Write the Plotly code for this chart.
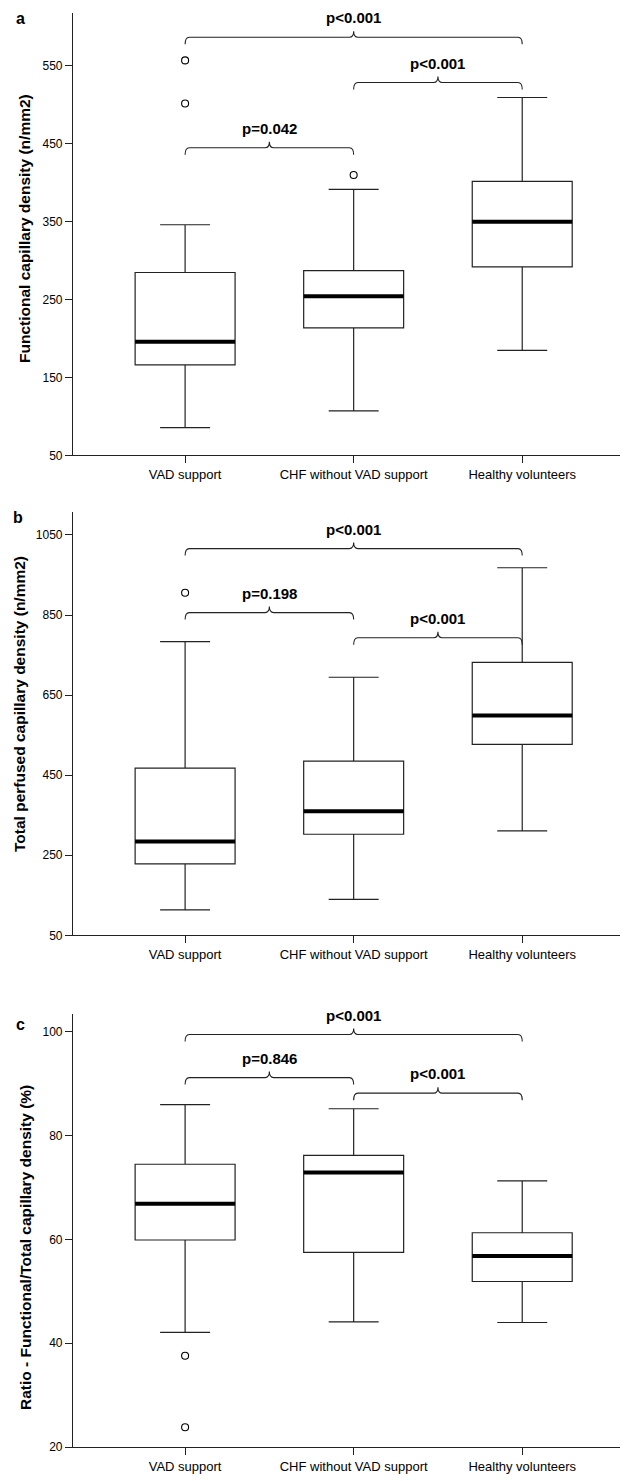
import plotly.graph_objects as go

categories = ["VAD support", "CHF without VAD support", "Healthy volunteers"]
cat_x = [0, 1, 2]

# Panel a: Functional capillary density (n/mm2)
a_low = [85.5, 107.0, 184.6]
a_q1 = [166.0, 213.7, 291.9]
a_med = [195.8, 254.3, 350.0]
a_q3 = [284.7, 287.2, 401.7]
a_high = [346.0, 391.4, 509.4]
a_out_x = [0, 0, 1]
a_out_y = [557.0, 501.7, 409.9]
a_brackets = [(0, 2, 586.8, "p<0.001"), (1, 2, 528.6, "p<0.001"), (0, 1, 444.9, "p=0.042")]
a_ticks = [50, 150, 250, 350, 450, 550]

# Panel b: Total perfused capillary density (n/mm2)
b_low = [113.4, 139.6, 311.0]
b_q1 = [228.6, 302.4, 527.0]
b_med = [284.0, 360.0, 599.0]
b_q3 = [467.5, 485.0, 731.8]
b_high = [783.3, 694.5, 968.0]
b_out_x = [0]
b_out_y = [905.6]
b_brackets = [(0, 2, 1015.8, "p<0.001"), (0, 1, 856.0, "p=0.198"), (1, 2, 793.0, "p<0.001")]
b_ticks = [50, 250, 450, 650, 850, 1050]

# Panel c: Ratio functional / total (%)
c_low = [42.1, 44.1, 44.0]
c_q1 = [59.9, 57.5, 51.9]
c_med = [66.9, 72.9, 56.8]
c_q3 = [74.5, 76.2, 61.3]
c_high = [86.0, 85.2, 71.3]
c_out_x = [0, 0]
c_out_y = [37.6, 23.8]
c_brackets = [(0, 2, 99.5, "p<0.001"), (0, 1, 91.2, "p=0.846"), (1, 2, 88.2, "p<0.001")]
c_ticks = [20, 40, 60, 80, 100]

W, H = 624, 1481
ML, MR, MT, MB = 73, 4, 13, 34
plot_h = H - MT - MB
plot_w = W - ML - MR

def py2paper(py):
    return (H - MB - py) / plot_h

def px2paper(px):
    return (px - ML) / plot_w

panels = [
    dict(low=a_low, q1=a_q1, med=a_med, q3=a_q3, high=a_high, ox=a_out_x, oy=a_out_y,
         br=a_brackets, ticks=a_ticks, yr=[50, 617.5], top=13.3, bot=455.3,
         title="Functional capillary density (n/mm2)", tx=25, tcy=229, letter="a", ly=18, lx=20),
    dict(low=b_low, q1=b_q1, med=b_med, q3=b_q3, high=b_high, ox=b_out_x, oy=b_out_y,
         br=b_brackets, ticks=b_ticks, yr=[50, 1108], top=511.7, bot=935.3,
         title="Total perfused capillary density (n/mm2)", tx=19, tcy=704, letter="b", ly=517, lx=18),
    dict(low=c_low, q1=c_q1, med=c_med, q3=c_q3, high=c_high, ox=c_out_x, oy=c_out_y,
         br=c_brackets, ticks=c_ticks, yr=[20, 103.4], top=1014.3, bot=1447,
         title="Ratio - Functional/Total capillary density (%)", tx=25, tcy=1248, letter="c", ly=1024, lx=20),
]

xr = [-0.665, 2.58]
box_w = 0.593
LINE = "#222222"
FONT = "Liberation Sans, Arial, sans-serif"

fig = go.Figure()
layout = dict(width=W, height=H, margin=dict(l=ML, r=MR, t=MT, b=MB),
              paper_bgcolor="white", plot_bgcolor="white", showlegend=False,
              font=dict(family=FONT, size=12, color="black"))
shapes = []
annotations = []

for k, p in enumerate(panels):
    sfx = "" if k == 0 else str(k + 1)
    xa, ya = "x" + sfx, "y" + sfx
    fig.add_trace(go.Box(
        x=cat_x, q1=p["q1"], median=p["med"], q3=p["q3"],
        lowerfence=p["low"], upperfence=p["high"],
        width=box_w, whiskerwidth=0.5, boxpoints=False,
        fillcolor="white", line=dict(color=LINE, width=1.2),
        xaxis=xa, yaxis=ya, hoverinfo="skip"))
    # thick median lines
    mx, my = [], []
    for xi, m in zip(cat_x, p["med"]):
        mx += [xi - box_w / 2, xi + box_w / 2, None]
        my += [m, m, None]
    fig.add_trace(go.Scatter(x=mx, y=my, mode="lines", line=dict(color="black", width=4),
                             xaxis=xa, yaxis=ya, hoverinfo="skip"))
    fig.add_trace(go.Scatter(x=p["ox"], y=p["oy"], mode="markers",
                             marker=dict(symbol="circle-open", size=7, color="black",
                                         line=dict(width=1.1)),
                             xaxis=xa, yaxis=ya, hoverinfo="skip"))

    d0, d1 = py2paper(p["bot"]), py2paper(p["top"])
    layout["xaxis" + sfx] = dict(domain=[0, 1], range=xr, anchor=ya, tickmode="array",
                                 tickvals=cat_x, ticktext=categories, ticks="outside",
                                 ticklen=7, tickcolor=LINE, showline=True, linecolor=LINE,
                                 linewidth=1.2, showgrid=False, zeroline=False,
                                 tickfont=dict(size=13, family=FONT))
    layout["yaxis" + sfx] = dict(domain=[max(d0, 0), min(d1, 1)], range=p["yr"], anchor=xa,
                                 tickmode="array", tickvals=p["ticks"], ticks="outside",
                                 ticklen=7, tickcolor=LINE, showline=True, linecolor=LINE,
                                 linewidth=1.2, showgrid=False, zeroline=False,
                                 tickfont=dict(size=12, family=FONT))

    # brackets
    ppu = (p["bot"] - p["top"]) / (p["yr"][1] - p["yr"][0])
    drop = 7 / ppu
    notch = 6 / ppu
    dx = 0.025
    for (i, j, lvl, lab) in p["br"]:
        x0, x1 = cat_x[i], cat_x[j]
        xm = (x0 + x1) / 2
        yd = lvl - drop
        yn = lvl + notch
        path = (f"M {x0},{yd} Q {x0},{lvl} {x0+dx},{lvl} L {xm-dx},{lvl} "
                f"Q {xm},{lvl} {xm},{yn} Q {xm},{lvl} {xm+dx},{lvl} "
                f"L {x1-dx},{lvl} Q {x1},{lvl} {x1},{yd}")
        shapes.append(dict(type="path", path=path, xref=xa, yref=ya,
                           line=dict(color=LINE, width=1.1)))
        annotations.append(dict(x=xm, y=lvl, xref=xa, yref=ya, text=f"<b>{lab}</b>",
                                showarrow=False, yanchor="bottom", yshift=9,
                                font=dict(size=15, family=FONT, color="black")))
    # axis title
    annotations.append(dict(x=px2paper(p["tx"]), y=py2paper(p["tcy"]), xref="paper", yref="paper",
                            text=f"<b>{p['title']}</b>", textangle=-90, showarrow=False,
                            xanchor="center", yanchor="middle",
                            font=dict(size=15.5, family=FONT, color="black")))
    # panel letter
    annotations.append(dict(x=px2paper(p["lx"]), y=py2paper(p["ly"]), xref="paper", yref="paper",
                            text=f"<b>{p['letter']}</b>", showarrow=False,
                            xanchor="center", yanchor="middle",
                            font=dict(size=16, family=FONT, color="black")))

layout["shapes"] = shapes
layout["annotations"] = annotations
fig.update_layout(**layout)
fig.write_html("out.html", config={"displayModeBar": False},
               post_script="document.body.style.margin='0';")
